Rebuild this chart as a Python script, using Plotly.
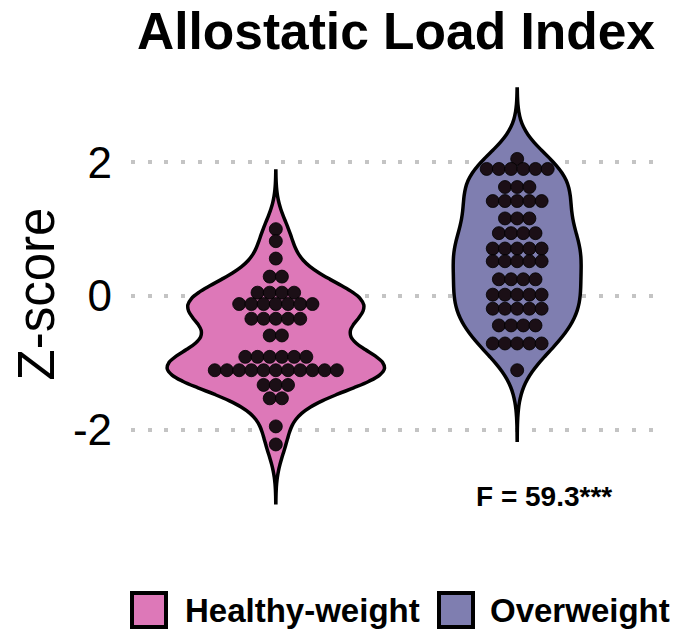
import numpy as np
import plotly.graph_objects as go

groups = ["Healthy-weight", "Overweight"]
colors = ["#DD78B8", "#7F7EB0"]

# dotplot bins (value, count)
healthy_bins = [1.0, 0.82, 0.56, 0.29, 0.05, -0.12, -0.34, -0.59, -0.91, -1.11, -1.33, -1.53, -1.95, -2.22]
healthy_counts = [1, 1, 1, 2, 4, 7, 5, 2, 6, 11, 3, 2, 1, 1]

overweight_bins = [2.05, 1.90, 1.63, 1.42, 1.16, 0.94, 0.71, 0.52, 0.25, 0.02, -0.19, -0.44, -0.71, -1.11]
overweight_counts = [1, 6, 3, 5, 3, 4, 5, 5, 4, 5, 5, 4, 5, 1]

f_label = "F = 59.3***"
title = "Allostatic Load Index"

OFF = 8  # page body margin
W, H = 678 - OFF, 634 - OFF  # keep the whole figure inside the window
L, R, T, B = 123, 16, 66, 120
FONT = "Liberation Sans"


def nrd0(v):
    v = np.asarray(v)
    iqr = np.subtract(*np.percentile(v, [75, 25]))
    return 0.9 * min(v.std(ddof=1), iqr / 1.34) * len(v) ** -0.2


# screen pixel -> paper fraction
def px_x(p):
    return (p - OFF - L) / (W - L - R)


def px_y(p):
    return (H - B - (p - OFF)) / (H - T - B)


fig = go.Figure()

widths = [0.9, 0.53]
step = 0.0506
all_bins = [(healthy_bins, healthy_counts), (overweight_bins, overweight_counts)]

for i, (bins, counts) in enumerate(all_bins):
    vals = np.repeat(bins, counts)
    bw = nrd0(vals)
    fig.add_trace(go.Violin(
        x0=i, y=vals, name=groups[i],
        bandwidth=bw, spanmode="manual",
        span=[vals.min() - 3 * bw, vals.max() + 3 * bw],
        width=widths[i], scalemode="width", scalegroup=groups[i],
        fillcolor=colors[i], opacity=1,
        line=dict(color="black", width=3.5),
        points=False, box_visible=False, meanline_visible=False,
        showlegend=False, hoverinfo="skip",
    ))

for i, (bins, counts) in enumerate(all_bins):
    xs, ys = [], []
    for b, n in zip(bins, counts):
        for k in range(n):
            xs.append(i + (k - (n - 1) / 2) * step)
            ys.append(b)
    fig.add_trace(go.Scatter(
        x=xs, y=ys, mode="markers",
        marker=dict(size=13, color="#1b0f16", line=dict(color="black", width=0.8)),
        showlegend=False, hoverinfo="skip",
    ))

# legend drawn by hand so the keys can be large squares
legend_keys = [(130, 183), (437, 488)]
shapes = []
annotations = []
for i, (kx, tx) in enumerate(legend_keys):
    shapes.append(dict(
        type="rect", xref="paper", yref="paper",
        x0=px_x(kx + 2), x1=px_x(kx + 36), y0=px_y(627), y1=px_y(593),
        fillcolor=colors[i], line=dict(color="black", width=4),
    ))
    annotations.append(dict(
        text="<b>%s</b>" % groups[i], xref="paper", yref="paper",
        x=px_x(tx), y=px_y(610), xanchor="left", yanchor="middle",
        showarrow=False, font=dict(family=FONT, size=33, color="black"),
    ))

annotations.append(dict(
    text="<b>%s</b>" % f_label, x=1.11, y=-3.0, xref="x", yref="y",
    showarrow=False, font=dict(family=FONT, size=28, color="black"),
))

fig.update_layout(
    width=W, height=H,
    margin=dict(l=L, r=R, t=T, b=B),
    paper_bgcolor="white", plot_bgcolor="white",
    violinmode="overlay",
    title=dict(
        text="<b>%s</b>" % title, x=px_x(396), xref="paper", xanchor="center",
        y=1 - (31 - OFF) / H, yref="container", yanchor="middle",
        font=dict(family=FONT, size=51.5, color="black"),
    ),
    xaxis=dict(range=[-0.6, 1.6], showticklabels=False, showgrid=False,
               zeroline=False, ticks=""),
    yaxis=dict(
        range=[-3.26, 3.32], tickvals=[-2, 0, 2], ticktext=["-2", "0", "2"],
        showgrid=True, gridcolor="#c4c4c4", gridwidth=3.5, griddash="4px,12.7px",
        zeroline=False, ticks="", ticklabelstandoff=18,
        tickfont=dict(family=FONT, size=44, color="black"),
        title=dict(text="Z-score", standoff=3,
                   font=dict(family=FONT, size=51, color="black")),
    ),
    shapes=shapes,
    annotations=annotations,
)

fig.write_html("out.html")
